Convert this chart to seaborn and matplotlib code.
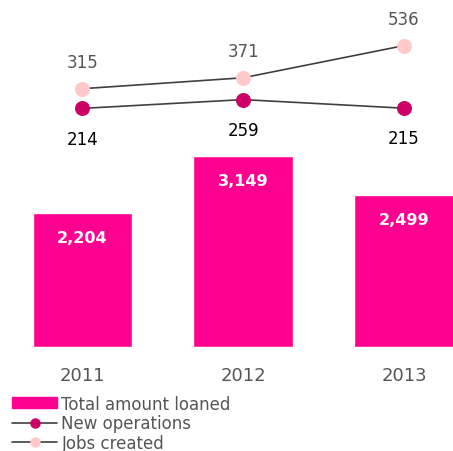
import matplotlib
matplotlib.use('Agg')
import matplotlib.pyplot as plt
import matplotlib.patches as mpatches
import matplotlib.lines as mlines
import pandas as pd
import seaborn as sns

years = ['2011', '2012', '2013']
total_loaned = [2204, 3149, 2499]
new_operations = [214, 259, 215]
jobs_created = [315, 371, 536]

bar_color = '#ff0090'
ops_color = '#cc0066'
jobs_color = '#ffc9c9'
line_color = '#404040'
text_gray = '#555555'

sns.set_theme(style='white')
plt.rcParams['font.family'] = ['DejaVu Sans']

df = pd.DataFrame({'year': years, 'loaned': total_loaned,
                   'ops': new_operations, 'jobs': jobs_created})

fig = plt.figure(figsize=(4.53, 4.52), dpi=100)
ax = fig.add_axes([0, 0.23, 1, 0.77])

sns.barplot(data=df, x='year', y='loaned', color=bar_color, width=0.62,
            saturation=1, ax=ax)
ax.set_xlim(-0.513, 2.305)
ax.set_ylim(0, 5733)
for i, v in enumerate(total_loaned):
    ax.text(i, v - 400, f'{v:,}', ha='center', va='center', color='white',
            fontsize=11.5, fontweight='bold')

ax2 = ax.twinx()
sns.lineplot(x=[0, 1, 2], y=df['jobs'], ax=ax2, color=line_color, lw=1.2,
             marker='o', markersize=10, markerfacecolor=jobs_color,
             markeredgecolor=jobs_color)
sns.lineplot(x=[0, 1, 2], y=df['ops'], ax=ax2, color=line_color, lw=1.2,
             marker='o', markersize=10, markerfacecolor=ops_color,
             markeredgecolor=ops_color)
ax2.set_ylim(-1010, 775)
ax2.set_xlim(-0.513, 2.305)
for i, v in enumerate(jobs_created):
    ax2.text(i, v + 135, str(v), ha='center', va='center', color=text_gray,
             fontsize=12)
for i, v in enumerate(new_operations):
    ax2.text(i, v - 155, str(v), ha='center', va='center', color='black',
             fontsize=12)

for a in (ax, ax2):
    a.set_xlabel('')
    a.set_ylabel('')
    a.set_yticks([])
    for s in a.spines.values():
        s.set_visible(False)
ax.tick_params(axis='x', length=0, pad=14, labelsize=13, labelcolor=text_gray)

handles = [
    mpatches.Patch(color=bar_color, label='Total amount loaned'),
    mlines.Line2D([], [], color=line_color, lw=1.2, marker='o', markersize=6.5,
                  markerfacecolor=ops_color, markeredgecolor=ops_color,
                  label='New operations'),
    mlines.Line2D([], [], color=line_color, lw=1.2, marker='o', markersize=6.5,
                  markerfacecolor=jobs_color, markeredgecolor=jobs_color,
                  label='Jobs created'),
]
fig.legend(handles=handles, loc='lower left', bbox_to_anchor=(0.005, -0.024),
           frameon=False, fontsize=12, labelcolor=text_gray, handlelength=2.7,
           handleheight=0.6, handletextpad=0.25, labelspacing=0.1,
           borderaxespad=0.2)

fig.savefig('out.png', dpi=100)
